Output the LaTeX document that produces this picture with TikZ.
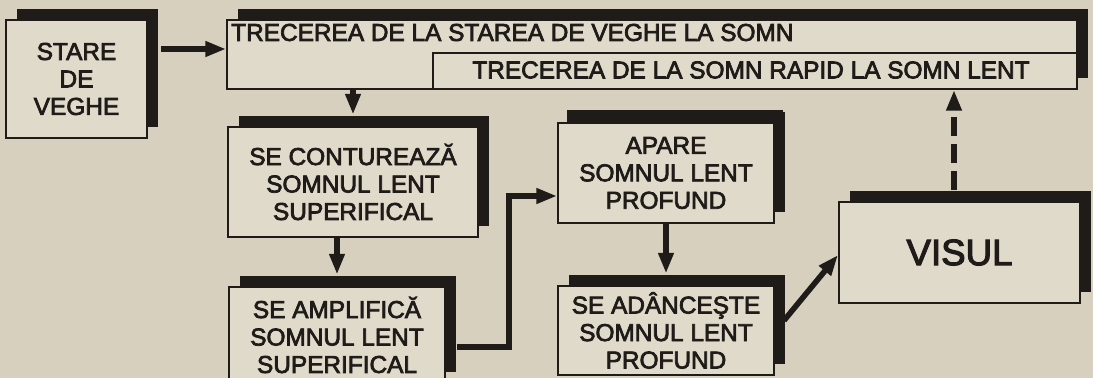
\documentclass[tikz,border=0pt]{standalone}
\usepackage{fontspec}
\newfontfamily\diafont{Liberation Sans}[FakeBold=3]
\usetikzlibrary{arrows.meta,calc,shadows}
\definecolor{bg}{RGB}{216,208,191}
\definecolor{boxc}{RGB}{224,218,203}
\definecolor{ink}{RGB}{30,27,25}
\begin{document}
\begin{tikzpicture}[x=0.75pt,y=-0.75pt,
  box/.style={draw=ink, line width=1.5pt, fill=boxc, inner sep=0pt, align=center,
    text=ink, font=\diafont\fontsize{18.3}{20.6}\selectfont,
    general shadow={fill=ink, shadow xshift=8.6pt, shadow yshift=8.6pt}},
  innerbox/.style={draw=ink, line width=1.5pt, fill=boxc, inner sep=0pt},
  txt/.style={text=ink, inner sep=0pt, font=\diafont\fontsize{18.3}{20.6}\selectfont},
  conn/.style={draw=ink, line width=4.2pt, -{Triangle[length=15.5pt,width=11pt]}},
  dconn/.style={conn, dash pattern=on 14pt off 6pt}]
\fill[bg] (0,0) rectangle (1093,378);
\useasboundingbox (0,0) rectangle (1093,378);

% boxes
\node[box, minimum width=105.75pt, minimum height=88.5pt] (b1) at (76.5,79) {STARE\\DE\\VEGHE};
\node[box, minimum width=637.5pt, minimum height=51.75pt] (b2) at (652,54.5) {};
\node[innerbox, minimum width=483pt, minimum height=27pt] (b2in) at (755,71) {};
\node[txt, anchor=west] (t2) at (231,32.5) {TRECEREA DE LA STAREA DE VEGHE LA SOMN};
\node[txt] (t2b) at (751,70) {TRECEREA DE LA SOMN RAPID LA SOMN LENT};
\node[box, minimum width=187.5pt, minimum height=82.5pt] (b3) at (353,182) {SE CONTUREAZĂ\\SOMNUL LENT\\SUPERIFICAL};
\node[box, minimum width=162pt, minimum height=72pt] (b4) at (337,335) {SE AMPLIFICĂ\\SOMNUL LENT\\SUPERIFICAL};
\node[box, minimum width=162pt, minimum height=75pt, general shadow={fill=ink, shadow xshift=7pt, shadow yshift=10pt}] (b5) at (666,173) {APARE\\SOMNUL LENT\\PROFUND};
\node[box, minimum width=162pt, minimum height=66.75pt] (b6) at (666,330.5) {SE ADÂNCEŞTE\\SOMNUL LENT\\PROFUND};
\node[box, minimum width=180.75pt, minimum height=75.75pt, font=\diafont\fontsize{27.5}{30}\selectfont] (b7) at (959.5,252.5) {VISUL};

% connectors
\draw[conn] ($(b1.east)+(13,-30)$) -- ($(b2.west)+(0,-5.5)$);
\draw[conn] (b3.north |- b2.south) -- ($(b3.north)+(0,-11.5)$);
\draw[conn] (b4.north |- b3.south) -- ($(b4.north)+(0,-11.5)$);
\draw[conn] ($(b4.east)+(11,12)$) -- ++(52,0) |- ($(b5.west)+(0,23)$);
\draw[conn] (b6.north |- b5.south) -- ($(b6.north)+(0,-11.5)$);
\draw[conn] ($(b6.east)+(9,-10)$) -- ($(b7.west)+(0,2.5)$);
\draw[dconn] ($(b7.north)+(-5.5,-11.5)$) -- ($(b2in.south -| b7.north)+(-5.5,0)$);
\end{tikzpicture}
\end{document}
